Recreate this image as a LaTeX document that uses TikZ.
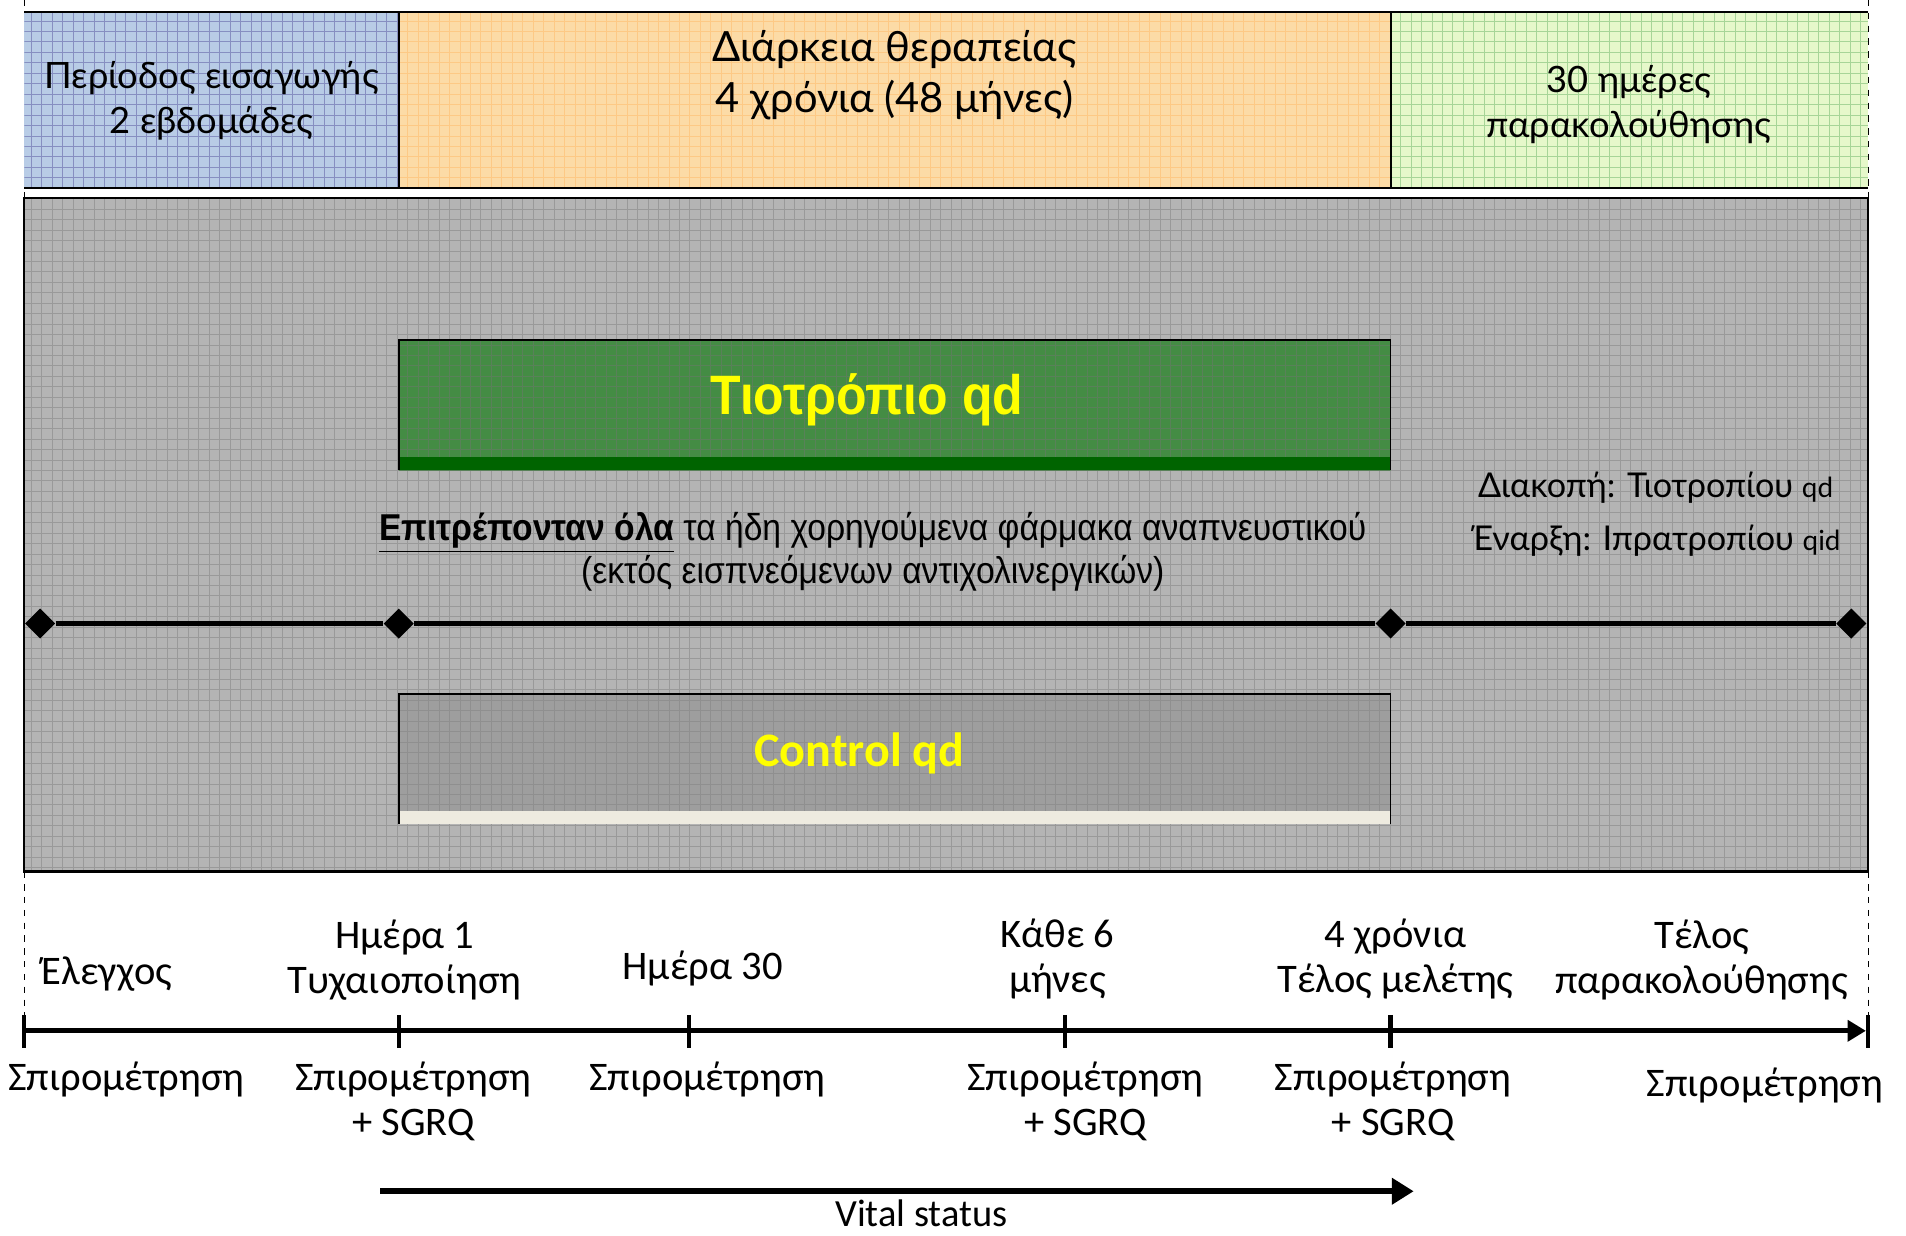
\documentclass[tikz,border=0pt]{standalone}
\usepackage{fontspec}
\setmainfont{Carlito}
\newfontfamily\roundfont{Lato}
\newfontfamily\narrowfont[FakeStretch=0.9]{Liberation Sans}
\usetikzlibrary{positioning,fit,shapes.geometric,arrows.meta,calc}

\definecolor{introblue}{HTML}{B8CCE6}
\definecolor{treatorange}{HTML}{FCDBA6}
\definecolor{followgreen}{HTML}{E6F8CA}
\definecolor{panelgray}{HTML}{B4B4B4}
\definecolor{tiogreen}{HTML}{448C44}
\definecolor{tiostrip}{HTML}{006400}
\definecolor{ctrlgray}{HTML}{9E9E9E}
\definecolor{ctrlstrip}{HTML}{EEEBE0}
\definecolor{armyellow}{HTML}{FFFF00}

% fine grid texture inside a filled region
\newcommand\gridfill[2]{%
  \begin{scope}
    \clip (#1.south west) rectangle (#1.north east);
    \draw[hatch=#2, step=0.172cm] (#1.south west) grid (#1.north east);
  \end{scope}}

\begin{document}
\begin{tikzpicture}[x=0.02cm, y=-0.02cm,
    region/.style={inner sep=0pt, outer sep=0pt},
    hatch/.style={draw=#1, line width=0.3pt},
    frame/.style={draw=black, line width=1pt},
    period/.style={font=\roundfont\fontsize{17}{21}\selectfont, align=center},
    armtext/.style={text=armyellow},
    note/.style={font=\narrowfont\fontsize{17.5}{20}\selectfont, align=center},
    visit/.style={font=\fontsize{19}{21}\selectfont, align=center},
    knot/.style={diamond, fill=black, inner sep=0pt, minimum size=0.5cm},
    rail/.style={line width=2.3pt},
    axisline/.style={line width=2.3pt},
    tickline/.style={line width=2pt}
  ]
  \useasboundingbox (0,0) rectangle (1568,1016);

  % dashed outer limits
  \coordinate (lefttop) at (20,0);
  \coordinate (leftbot) at (20,848);
  \coordinate (righttop) at (1537,0);
  \coordinate (rightbot) at (1537,848);
  \draw[dashed, thin] (lefttop) -- (leftbot);
  \draw[dashed, thin] (righttop) -- (rightbot);

  % study periods
  \node[region, fill=introblue, fit={(20,10) (328,155)}] (intro) {};
  \node[region, fill=treatorange, fit={(328,10) (1144,155)}] (treat) {};
  \node[region, fill=followgreen, fit={(1144,10) (1537,155)}] (follow) {};
  \gridfill{intro}{introblue!75!blue!60!gray}
  \gridfill{treat}{treatorange!80!orange}
  \gridfill{follow}{followgreen!80!green!70!gray}
  \draw[frame] (intro.north west) -- (follow.north east);
  \draw[frame] (intro.south west) -- (follow.south east);
  \draw[frame] (treat.north west) -- (treat.south west);
  \draw[frame] (treat.north east) -- (treat.south east);

  \node[period] (intro_text) at (174,83)
    {Περίοδος εισαγωγής\\2 εβδομάδες};
  \node[period, font=\roundfont\fontsize{19.5}{24}\selectfont] (treat_text) at (736,62)
    {Διάρκεια θεραπείας\\4 χρόνια (48 μήνες)};
  \node[period] (follow_text) at (1340,86)
    {30 ημέρες\\παρακολούθησης};

  % gray panel
  \node[region, fill=panelgray, fit={(20,163) (1537,717)}] (panel) {};
  \gridfill{panel}{gray!80}
  \draw[frame] (panel.north west) rectangle (panel.south east);

  % treatment arms
  \node[region, fill=tiogreen, fit={(328,280) (1144,387)}] (tio) {};
  \gridfill{tio}{tiogreen!70!black!80}
  \fill[tiostrip] ($(tio.south west)+(0,-11)$) rectangle (tio.south east);
  \draw[line width=0.8pt] (tio.south west) |- (tio.north east) -- (tio.south east);
  \node[armtext, font=\narrowfont\bfseries\fontsize{26}{30}\selectfont]
    (tio_text) at (713,329) {Τιοτρόπιο qd};

  \node[region, fill=ctrlgray, fit={(328,571) (1144,678)}] (ctrl) {};
  \gridfill{ctrl}{gray!75!black!70}
  \fill[ctrlstrip] ($(ctrl.south west)+(0,-11)$) rectangle (ctrl.south east);
  \draw[line width=0.8pt] (ctrl.south west) |- (ctrl.north east) -- (ctrl.south east);
  \node[armtext, font=\bfseries\fontsize{22.5}{26}\selectfont]
    (ctrl_text) at (707,620) {Control qd};

  \node[note] (allowed) at (718,454)
    {\underline{\bfseries Επιτρέπονταν όλα} τα ήδη χορηγούμενα φάρμακα αναπνευστικού\\
     (εκτός εισπνεόμενων αντιχολινεργικών)};
  \node[font=\roundfont\fontsize{16}{25}\selectfont, align=center] (switch) at (1362,423)
    {Διακοπή: Τιοτροπίου {\fontsize{13}{15}\selectfont qd}\\
     Έναρξη: Ιπρατροπίου {\fontsize{13}{15}\selectfont qid}};

  % treatment timeline
  \node[knot] (d0) at (33,513) {};
  \node[knot] (d1) at (328,513) {};
  \node[knot] (d2) at (1144,513) {};
  \node[knot] (d3) at (1523,513) {};
  \draw[rail] (d0) -- (d1) -- (d2) -- (d3);

  % visit axis
  \foreach \x/\n in {20/t0, 328/t1, 567/t2, 876/t3, 1144/t4, 1537/t5}
    \coordinate (\n) at (\x,848);
  \draw[axisline, -{Triangle[length=0.3cm, width=0.34cm]}] (t0) -- ($(t5)+(-2,0)$);
  \foreach \n in {t0, t1, t2, t3, t4, t5}
    \draw[tickline] ($(\n)+(0,-13)$) -- ($(\n)+(0,14)$);

  \node[visit] (v0_top) at (88,801) {Έλεγχος};
  \node[visit] (v1_top) at (333,790) {Ημέρα 1\\Τυχαιοποίηση};
  \node[visit] (v2_top) at (578,797) {Ημέρα 30};
  \node[visit] (v3_top) at (870,789) {Κάθε 6\\μήνες};
  \node[visit] (v4_top) at (1148,789) {4 χρόνια\\Τέλος μελέτης};
  \node[visit] (v5_top) at (1400,790) {Τέλος\\παρακολούθησης};

  \node[visit] (v0_bot) at (104,888) {Σπιρομέτρηση};
  \node[visit] (v1_bot) at (340,906) {Σπιρομέτρηση\\+ SGRQ};
  \node[visit] (v2_bot) at (582,888) {Σπιρομέτρηση};
  \node[visit] (v3_bot) at (893,906) {Σπιρομέτρηση\\+ SGRQ};
  \node[visit] (v4_bot) at (1146,906) {Σπιρομέτρηση\\+ SGRQ};
  \node[visit] (v5_bot) at (1452,893) {Σπιρομέτρηση};

  % vital status
  \coordinate (vital_start) at (313,980);
  \coordinate (vital_end) at (1163,980);
  \draw[line width=3pt, -{Triangle[length=0.36cm, width=0.42cm]}] (vital_start) -- (vital_end);
  \node[visit, font=\fontsize{18}{20}\selectfont, inner sep=1pt] (vital) at (758,998) {Vital status};
\end{tikzpicture}
\end{document}
